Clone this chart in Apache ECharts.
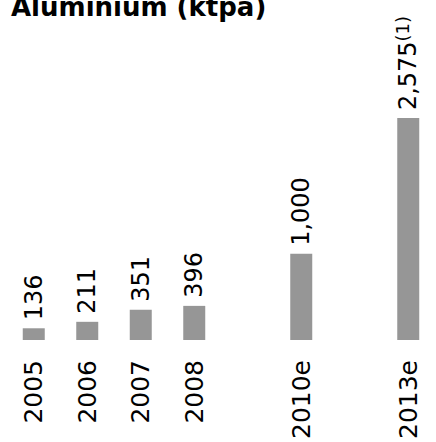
<!DOCTYPE html>
<html>
<head>
<meta charset="utf-8">
<script src="https://cdn.jsdelivr.net/npm/echarts@6/dist/echarts.min.js"></script>
<style>html,body{margin:0;padding:0;background:#fff}#c{width:436px;height:442px}</style>
</head>
<body>
<div id="c"></div>
<script>
var titleText = 'Aluminium (ktpa)';
var categories = ['2005', '2006', '2007', '2008', '', '2010e', '', '2013e'];
var values = [136, 211, 351, 396, null, 1000, null, 2575];
var valueLabels = ['136', '211', '351', '396', '', '1,000', '', '2,575'];
var notes = ['', '', '', '', '', '', '', '(1)'];

var chart = echarts.init(document.getElementById('c'), null, { renderer: 'svg' });
var FONT = 'DejaVu Sans';
chart.setOption({
  animation: false,
  backgroundColor: '#fff',
  title: {
    text: titleText,
    left: 6,
    top: -11,
    textStyle: { fontFamily: FONT, fontSize: 26, fontWeight: 'bold', color: '#000' }
  },
  grid: { left: 7, right: 1, top: 81.5, bottom: 101.3 },
  xAxis: {
    type: 'category',
    data: categories,
    axisLine: { show: false },
    axisTick: { show: false },
    axisLabel: {
      rotate: 90,
      margin: 20,
      interval: 0,
      fontFamily: FONT,
      fontSize: 25,
      color: '#000'
    }
  },
  yAxis: {
    type: 'value',
    min: 0,
    max: 3000,
    show: false,
    splitLine: { show: false }
  },
  series: [{
    type: 'bar',
    data: values,
    barWidth: 22,
    itemStyle: { color: '#969696' },
    label: {
      show: true,
      position: 'top',
      rotate: 90,
      align: 'left',
      verticalAlign: 'middle',
      distance: 8,
      formatter: function (p) {
        var s = '{v|' + valueLabels[p.dataIndex] + '}';
        if (notes[p.dataIndex]) s += '{s|' + notes[p.dataIndex] + '}';
        return s;
      },
      rich: {
        v: { fontFamily: FONT, fontSize: 24, color: '#000', lineHeight: 30 },
        s: { fontFamily: FONT, fontSize: 18, color: '#000', lineHeight: 18, verticalAlign: 'top' }
      }
    }
  }]
});
</script>
</body>
</html>
